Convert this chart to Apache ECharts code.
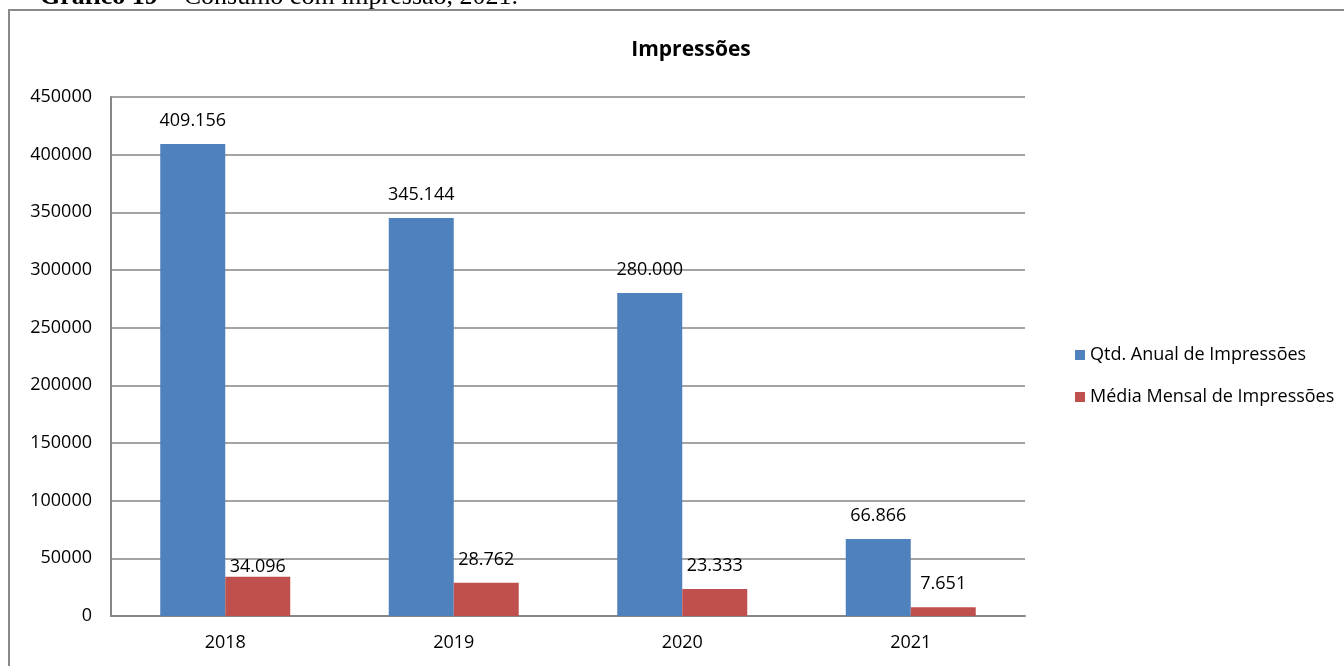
<!DOCTYPE html>
<html><head><meta charset="utf-8">
<script src="https://cdn.jsdelivr.net/npm/echarts@6/dist/echarts.min.js"></script>
<style>html,body{margin:0;padding:0;background:#fff}#c{width:1344px;height:666px}</style>
</head><body><div id="c"></div>
<script>
const categories = ['2018', '2019', '2020', '2021'];
const annualPrints = [409156, 345144, 280000, 66866];
const monthlyAvgPrints = [34096, 28762, 23333, 7651];
const seriesNames = ['Qtd. Anual de Impressões', 'Média Mensal de Impressões'];
const titleText = 'Impressões';

const font = 'Open Sans';
const fs = 18;
const fmt = v => v.toLocaleString('de-DE');
const chart = echarts.init(document.getElementById('c'));
chart.setOption({
  animation: false,
  textStyle: { fontFamily: font },
  title: { text: titleText, left: 686, top: 35, textAlign: 'center',
    textStyle: { fontFamily: font, fontSize: 21, fontWeight: 'bold', color: '#000' } },
  legend: { orient: 'vertical', left: 1070, top: 341, itemWidth: 10, itemHeight: 10, itemGap: 24,
    icon: 'rect', textStyle: { fontFamily: font, fontSize: fs, color: '#000', padding: [0, 0, 0, 0] } },
  grid: { left: 111, right: 319, top: 97, bottom: 50, containLabel: false },
  xAxis: { type: 'category', data: categories,
    axisLine: { lineStyle: { color: '#868686', width: 2 } }, axisTick: { show: false },
    axisLabel: { color: '#000', fontSize: fs, margin: 18, fontFamily: font } },
  yAxis: { type: 'value', min: 0, max: 450000, interval: 50000,
    axisLine: { show: true, lineStyle: { color: '#868686', width: 2 } }, axisTick: { show: false },
    splitLine: { lineStyle: { color: '#868686', width: 1.5 } },
    axisLabel: { color: '#000', fontSize: fs, margin: 19, fontFamily: font, formatter: v => String(v) } },
  series: [
    { name: seriesNames[0], type: 'bar', data: annualPrints, barWidth: 65, barGap: '0%',
      itemStyle: { color: '#4F81BD' },
      label: { show: true, position: 'top', distance: 14, color: '#000', fontSize: fs, fontFamily: font,
        formatter: p => fmt(p.value) } },
    { name: seriesNames[1], type: 'bar', barWidth: 65,
      data: monthlyAvgPrints.map((v, i) => i === 0 ? { value: v, label: { distance: 1 } } : v),
      itemStyle: { color: '#C0504D' },
      label: { show: true, position: 'top', distance: 14, color: '#000', fontSize: fs, fontFamily: font,
        formatter: p => fmt(p.value) } }
  ],
  graphic: [
    { type: 'rect', shape: { x: 9, y: 10, width: 1345, height: 680 },
      style: { fill: 'none', stroke: '#8a8a8a', lineWidth: 2 }, silent: true },
    { type: 'text', x: 40, y: 10, style: {
        text: '{b|Gráfico 19}{r| – Consumo com impressão, 2021.}',
        verticalAlign: 'bottom',
        rich: { b: { fontFamily: 'Liberation Serif', fontWeight: 'bold', fontSize: 26, fill: '#000' },
                r: { fontFamily: 'Liberation Serif', fontSize: 26, fill: '#000' } } } }
  ]
});
</script></body></html>
